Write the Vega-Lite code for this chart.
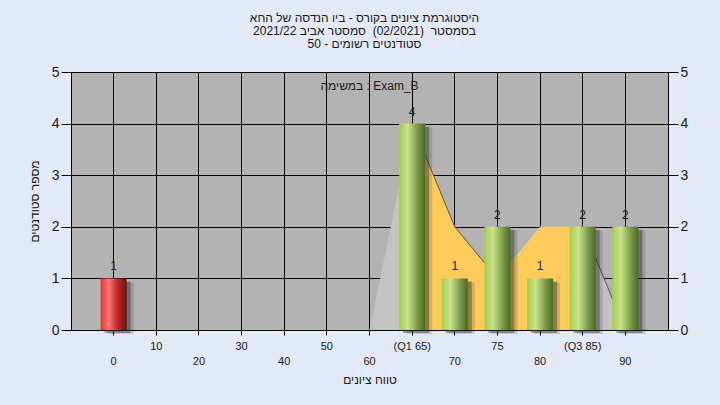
{
  "$schema": "https://vega.github.io/schema/vega-lite/v6.json",
  "width": 597,
  "height": 258,
  "autosize": {"type": "none"},
  "padding": {"left": 71, "top": 72, "right": 52, "bottom": 75},
  "background": "#e1eaf6",
  "config": {
    "view": {"fill": "#b3b3b3", "stroke": "#000000", "strokeWidth": 1},
    "font": "Liberation Sans",
    "axis": {"labelFont": "Liberation Sans", "titleFont": "Liberation Sans", "titleFontWeight": "normal", "titleColor": "#1a1a1a", "labelColor": "#1a1a1a", "domainColor": "#000000", "tickColor": "#000000", "gridColor": "#000000", "gridOpacity": 1}
  },
  "title": {
    "text": ["היסטוגרמת ציונים בקורס - ביו הנדסה של החא", "2021/22 בסמסטר \u00a0(02/2021)\u00a0 סמסטר אביב", "50 - סטודנטים רשומים"],
    "fontSize": 12,
    "fontWeight": "normal",
    "color": "#1a1a1a",
    "lineHeight": 13,
    "offset": 14,
    "dx": -5,
    "anchor": "middle",
    "font": "Liberation Sans"
  },
  "datasets": {
    "bars": [
      {"cat": "0", "n": 1, "grp": "r"},
      {"cat": "(Q1 65)", "n": 4, "grp": "g"},
      {"cat": "70", "n": 1, "grp": "g"},
      {"cat": "75", "n": 2, "grp": "g"},
      {"cat": "80", "n": 1, "grp": "g"},
      {"cat": "(Q3 85)", "n": 2, "grp": "g"},
      {"cat": "90", "n": 2, "grp": "g"}
    ],
    "areaGray": [
      {"cat": "60", "v": 0, "seg": "a"},
      {"cat": "(Q1 65)", "v": 4, "seg": "a"},
      {"cat": "(Q3 85)", "v": 2, "seg": "b"},
      {"cat": "90", "v": 0, "seg": "b"}
    ],
    "areaYellow": [
      {"cat": "(Q1 65)", "v": 4},
      {"cat": "70", "v": 2},
      {"cat": "75", "v": 1},
      {"cat": "80", "v": 2},
      {"cat": "(Q3 85)", "v": 2}
    ],
    "edge": [
      {"cat": "(Q1 65)", "v": 4, "seg": "a"},
      {"cat": "70", "v": 2, "seg": "a"},
      {"cat": "75", "v": 1, "seg": "a"},
      {"cat": "(Q3 85)", "v": 2, "seg": "b"},
      {"cat": "90", "v": 0, "seg": "b"}
    ],
    "note": [
      {"cat": "60", "v": 4.73, "label": "במשימה : Exam_B"}
    ]
  },
  "encoding": {
    "x": {
      "field": "cat",
      "type": "nominal",
      "sort": null,
      "scale": {
        "domain": ["0", "10", "20", "30", "40", "50", "60", "(Q1 65)", "70", "75", "80", "(Q3 85)", "90"],
        "paddingInner": 0.39,
        "paddingOuter": 0.695
      },
      "axis": {
        "title": "טווח ציונים",
        "titleFontSize": 12,
        "titlePadding": 8,
        "labelAngle": 0,
        "labelFontSize": 11,
        "tickSize": 5,
        "grid": true,
        "gridWidth": 1,
        "labelPadding": {"condition": {"test": "datum.value == '0' || datum.value == '20' || datum.value == '40' || datum.value == '60' || datum.value == '70' || datum.value == '80' || datum.value == '90'", "value": 20}, "value": 5}
      }
    }
  },
  "layer": [
    {
      "data": {"name": "areaGray"},
      "mark": {"type": "area", "color": "#c3c3c3", "opacity": 1},
      "encoding": {
        "y": {"field": "v", "type": "quantitative", "stack": null, "scale": {"domain": [0, 5]}, "axis": {"orient": "left", "title": "מספר סטודנטים", "titleFontSize": 12, "titlePadding": 10, "labelFontSize": 14, "tickSize": 10, "labelPadding": 2, "values": [0, 1, 2, 3, 4, 5], "grid": true, "gridWidth": 1}},
        "detail": {"field": "seg"}
      }
    },
    {
      "data": {"name": "areaYellow"},
      "mark": {"type": "area", "color": "#ffcb5a", "opacity": 1},
      "encoding": {
        "y": {"field": "v", "type": "quantitative", "stack": null, "scale": {"domain": [0, 5]}, "axis": null}
      }
    },
    {
      "data": {"name": "edge"},
      "mark": {"type": "line", "color": "#4a4a4a", "strokeWidth": 1, "opacity": 0.9},
      "encoding": {
        "y": {"field": "v", "type": "quantitative", "scale": {"domain": [0, 5]}, "axis": null},
        "detail": {"field": "seg"}
      }
    },
    {
      "data": {"name": "bars"},
      "mark": {"type": "bar", "color": "#2a2a2a", "opacity": 0.18, "xOffset": 7, "yOffset": 4},
      "encoding": {
        "y": {"field": "n", "type": "quantitative", "scale": {"domain": [0, 5]}, "axis": null}
      }
    },
    {
      "data": {"name": "bars"},
      "mark": {"type": "bar", "color": "#2a2a2a", "opacity": 0.4, "xOffset": 4, "yOffset": 3},
      "encoding": {
        "y": {"field": "n", "type": "quantitative", "scale": {"domain": [0, 5]}, "axis": null}
      }
    },
    {
      "data": {"name": "bars"},
      "transform": [{"filter": "datum.grp == 'r'"}],
      "mark": {
        "type": "bar",
        "color": {"gradient": "linear", "x1": 0, "x2": 1, "y1": 0, "y2": 0, "stops": [
          {"offset": 0, "color": "#ff2424"},
          {"offset": 0.3, "color": "#ff7a7a"},
          {"offset": 0.65, "color": "#c02a2a"},
          {"offset": 1, "color": "#6a0e0e"}
        ]}
      },
      "encoding": {
        "y": {"field": "n", "type": "quantitative", "scale": {"domain": [0, 5]}, "axis": null}
      }
    },
    {
      "data": {"name": "bars"},
      "transform": [{"filter": "datum.grp == 'g'"}],
      "mark": {
        "type": "bar",
        "color": {"gradient": "linear", "x1": 0, "x2": 1, "y1": 0, "y2": 0, "stops": [
          {"offset": 0, "color": "#a2cf45"},
          {"offset": 0.33, "color": "#cae390"},
          {"offset": 0.7, "color": "#7b9b45"},
          {"offset": 1, "color": "#4a6a26"}
        ]}
      },
      "encoding": {
        "y": {"field": "n", "type": "quantitative", "scale": {"domain": [0, 5]}, "axis": null}
      }
    },
    {
      "data": {"name": "bars"},
      "mark": {"type": "text", "fontSize": 12, "color": "#222222", "baseline": "bottom", "dy": -5},
      "encoding": {
        "y": {"field": "n", "type": "quantitative", "scale": {"domain": [0, 5]}, "axis": {"orient": "right", "title": null, "labelFontSize": 14, "tickSize": 10, "labelPadding": 2, "values": [0, 1, 2, 3, 4, 5], "grid": false}},
        "text": {"field": "n", "type": "quantitative"}
      }
    },
    {
      "data": {"name": "note"},
      "mark": {"type": "text", "fontSize": 12, "color": "#1a1a1a", "baseline": "middle", "align": "center"},
      "encoding": {
        "y": {"field": "v", "type": "quantitative", "scale": {"domain": [0, 5]}, "axis": null},
        "text": {"field": "label"}
      }
    }
  ],
  "resolve": {"axis": {"y": "independent"}}
}
